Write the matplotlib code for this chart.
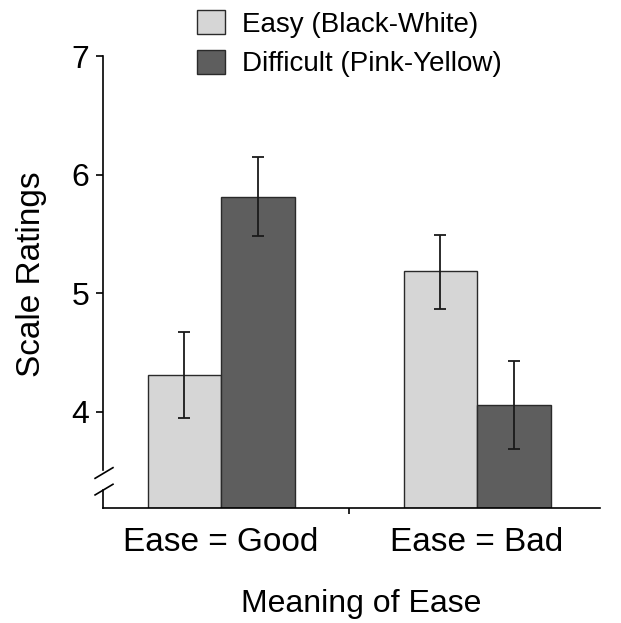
import matplotlib
matplotlib.use("Agg")
import matplotlib.pyplot as plt
import matplotlib.transforms as mtransforms
import numpy as np

plt.rcParams['font.family'] = ['Liberation Sans', 'DejaVu Sans']

# data
groups = ["Ease = Good", "Ease = Bad"]
series = ["Easy (Black-White)", "Difficult (Pink-Yellow)"]
easy_means = [4.31, 5.19]
easy_lo = [3.95, 4.87]
easy_hi = [4.67, 5.49]
diff_means = [5.81, 4.06]
diff_lo = [5.48, 3.69]
diff_hi = [6.15, 4.43]

colors = ["#d6d6d6", "#5e5e5e"]
bar_w = 0.287
y_bottom = 3.19

fig = plt.figure(figsize=(6.21, 6.23), dpi=100)
ax = fig.add_axes([0.1659, 0.1846, 0.8003, 0.7255])

x = np.arange(len(groups))
for i, (m, lo, hi) in enumerate([(easy_means, easy_lo, easy_hi),
                                  (diff_means, diff_lo, diff_hi)]):
    m = np.array(m)
    err = [m - np.array(lo), np.array(hi) - m]
    pos = x + (i - 0.5) * bar_w
    ax.bar(pos, m - y_bottom, bar_w, bottom=y_bottom, color=colors[i],
           edgecolor="#2a2a2a", linewidth=1.0, label=series[i], zorder=2)
    ax.errorbar(pos, m, yerr=err, fmt="none", ecolor="#1a1a1a",
                elinewidth=1.3, capsize=4, capthick=1.3, zorder=3)

ax.set_xlim(-0.461, 1.48)
ax.set_ylim(y_bottom, 7)

for s in ["top", "right"]:
    ax.spines[s].set_visible(False)
ax.spines["left"].set_bounds(3.51, 7)
ax.spines["left"].set_linewidth(1.2)
ax.spines["bottom"].set_linewidth(1.2)

# axis break
trans = mtransforms.blended_transform_factory(ax.transAxes, ax.transData)
ax.plot([0, 0], [y_bottom, 3.34], color="black", lw=1.2, transform=trans,
        clip_on=False)
for y0 in [3.44, 3.30]:
    ax.plot([-0.016, 0.02], [y0, y0 + 0.09], color="black", lw=1.2,
            transform=trans, clip_on=False)

ax.set_yticks([4, 5, 6, 7])
ax.tick_params(axis="y", direction="out", length=5, width=1.2, pad=5,
               labelsize=23)
ax.set_xticks(x)
ax.set_xticklabels(groups)
ax.set_xticks([0.5], minor=True)
ax.tick_params(axis="x", which="major", length=0, pad=14, labelsize=24)
ax.tick_params(axis="x", which="minor", length=4, width=1.2, direction="out")

ax.set_ylabel("Scale Ratings", fontsize=24)
ax.yaxis.set_label_coords(-0.113, 0.518)
ax.set_xlabel("Meaning of Ease", fontsize=23)
ax.xaxis.set_label_coords(0.52, -0.18)

fig.legend(loc="upper left", bbox_to_anchor=(0.304, 0.997), frameon=False,
           fontsize=20, handlelength=1.0, handleheight=0.94,
           handletextpad=0.6, labelspacing=0.44, borderpad=0.3,
           borderaxespad=0)

fig.savefig("out.png", dpi=100)
